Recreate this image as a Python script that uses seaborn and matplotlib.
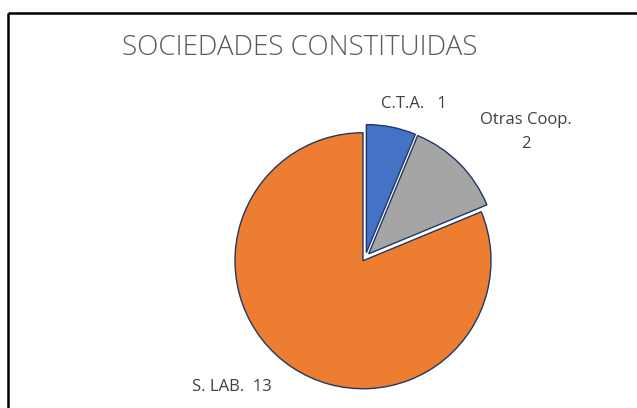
import matplotlib
matplotlib.use("Agg")
import matplotlib.pyplot as plt
import seaborn as sns

# chart data
categories = ["C.T.A.", "Otras Coop.", "S. LAB."]
counts = [1, 2, 13]
label_texts = ["C.T.A.   1", "Otras Coop.\n2", "S. LAB.  13"]
colors = ["#4472C4", "#A5A5A5", "#ED7D31"]
title = "SOCIEDADES CONSTITUIDAS"

sns.set_theme(style="white")
plt.rcParams['font.family'] = ['Open Sans', 'DejaVu Sans']

W, H = 637, 408
fig = plt.figure(figsize=(W / 100, H / 100), dpi=100)
ax = fig.add_axes([0, 0, 1, 1])

# frame: only top and left edges are visible in the crop
ax.plot([8, W], [H - 12.5, H - 12.5], color="black", lw=1.8, solid_capstyle="butt")
ax.plot([8, 8], [H - 12.5, 0], color="black", lw=1.8, solid_capstyle="butt")

# explode is in data units (pixels here)
wedges, _ = ax.pie(
    counts,
    colors=colors,
    startangle=90,
    counterclock=False,
    explode=[4.5, 4.5, 4.5],
    center=(365.5, H - 257),
    radius=128,
    frame=True,
    wedgeprops=dict(edgecolor="#1F3864", linewidth=1.0),
)
ax.set_xlim(0, W)
ax.set_ylim(0, H)
ax.axis("off")

txt_color = "#404040"
ax.text(300, H - 48, title, ha="center", va="center", fontsize=20,
        color="#595959", fontweight="light")
ax.text(414, H - 104, label_texts[0], ha="center", va="center",
        fontsize=12, color=txt_color)
ax.text(526, H - 132, label_texts[1], ha="center", va="center",
        fontsize=12, color=txt_color, linespacing=1.6)
ax.text(232, H - 387, label_texts[2], ha="center", va="center",
        fontsize=12, color=txt_color)

fig.savefig("out.png", dpi=100)
